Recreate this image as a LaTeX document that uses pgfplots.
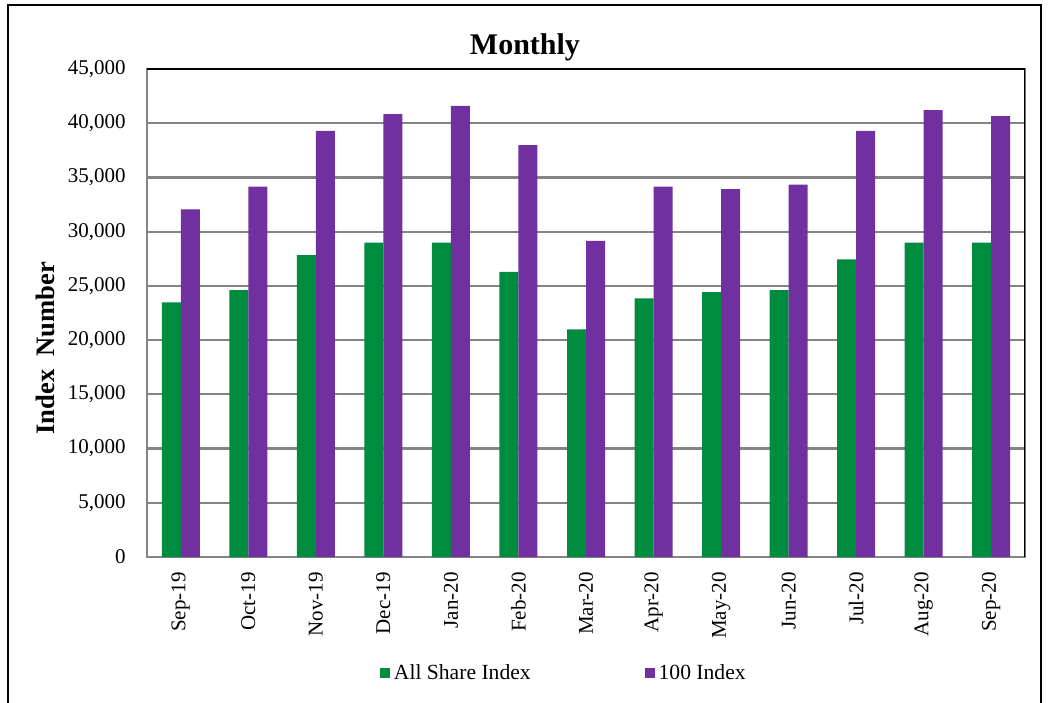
\documentclass[border=0pt]{standalone}
\usepackage{pgfplots}
\pgfplotsset{compat=1.18}
\usepackage{fontspec}
\setmainfont{Liberation Serif}
\definecolor{gbar}{RGB}{0,140,62}
\definecolor{pbar}{RGB}{112,48,160}
\definecolor{gridc}{RGB}{132,132,132}
\begin{document}
\begin{tikzpicture}
\useasboundingbox (0,0) rectangle (524pt,351pt);
\draw[line width=1pt] (4pt,-5pt) rectangle (520.5pt,348.5pt);
\begin{axis}[
  at={(73.5pt,72.5pt)}, anchor=south west,
  scale only axis, width=439pt, height=244pt,
  ybar=0pt, bar width=9.5pt,
  xmin=-0.5, xmax=12.5, ymin=0, ymax=45000,
  xtick=data,
  xticklabels={Sep-19,Oct-19,Nov-19,Dec-19,Jan-20,Feb-20,Mar-20,Apr-20,May-20,Jun-20,Jul-20,Aug-20,Sep-20},
  ytick={0,5000,...,45000},
  scaled y ticks=false,
  /pgf/number format/.cd, 1000 sep={,}, assume math mode=true, /pgfplots/.cd,
  major tick length=0pt,
  ymajorgrids, grid style={gridc, line width=1.1pt},
  axis line style={gridc, line width=1.1pt},
  tick label style={font=\fontsize{10.5}{12}\selectfont},
  xticklabel style={rotate=90, anchor=east, inner sep=0pt},
  xticklabel shift=7.5pt,
  yticklabel style={inner sep=0pt},
  yticklabel shift=10.5pt,
  title={Monthly},
  title style={font=\fontsize{15}{18}\selectfont\bfseries, at={(axis description cs:0.4305,1.039)}, anchor=base, yshift=-8.5pt},
  ylabel={Index~~Number},
  ylabel style={font=\fontsize{13.3}{16}\selectfont\bfseries, at={(axis description cs:-0.116,0.428)}, anchor=center},
  legend style={draw=none, at={(axis description cs:0.258,-0.2387)}, anchor=west, legend columns=2,
    font=\fontsize{10.8}{12}\selectfont,
    /tikz/every even column/.append style={column sep=55pt}},
  legend image code/.code={\fill[#1] (0pt,-2.5pt) rectangle (5pt,2.5pt);},
]
\addplot[fill=gbar, draw=none] coordinates {
(0,23470) (1,24610) (2,27840) (3,28980) (4,28980) (5,26300) (6,20980)
(7,23840) (8,24420) (9,24610) (10,27440) (11,28980) (12,28980)};
\addplot[fill=pbar, draw=none] coordinates {
(0,32060) (1,34150) (2,39290) (3,40830) (4,41600) (5,37970) (6,29160)
(7,34150) (8,33930) (9,34330) (10,39290) (11,41200) (12,40650)};
\legend{All Share Index, 100 Index}
\draw[black, line width=1.1pt] (rel axis cs:0,1) -- (rel axis cs:1,1) -- (rel axis cs:1,0);
\end{axis}
\end{tikzpicture}
\end{document}
